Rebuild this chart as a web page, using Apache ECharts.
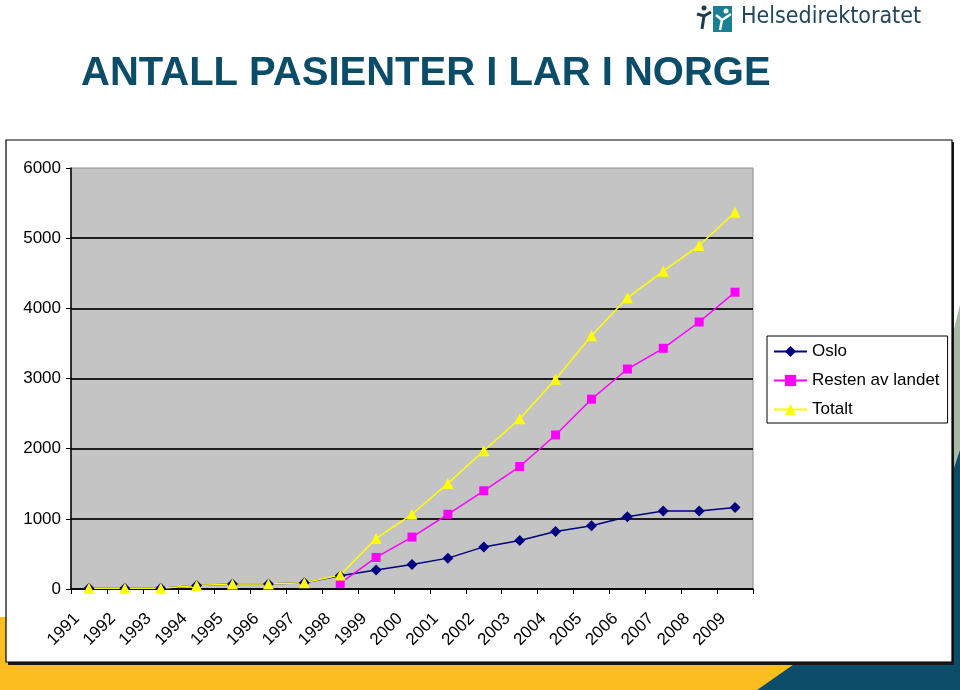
<!DOCTYPE html>
<html>
<head>
<meta charset="utf-8">
<script src="https://cdn.jsdelivr.net/npm/echarts@6/dist/echarts.min.js"></script>
<style>
  html, body { margin: 0; padding: 0; background: #fff; }
  #main { width: 960px; height: 690px; }
</style>
</head>
<body>
<div id="main"></div>
<script>
// chart data
const years = ['1991', '1992', '1993', '1994', '1995', '1996', '1997', '1998', '1999', '2000',
  '2001', '2002', '2003', '2004', '2005', '2006', '2007', '2008', '2009'];
const oslo = [10, 10, 10, 50, 70, 70, 90, 190, 270, 350, 440, 600, 690, 820, 900, 1030, 1110, 1110, 1160];
const resten = [null, null, null, null, null, null, null, 80, 450, 740, 1065, 1400, 1745, 2195, 2705, 3135, 3430, 3805, 4230];
const totalt = [10, 10, 10, 50, 70, 70, 90, 200, 720, 1065, 1505, 1970, 2425, 2990, 3610, 4150, 4530, 4895, 5370];

const font = '"Liberation Sans", Arial, sans-serif';
const teal = '#0b4d69';

const chart = echarts.init(document.getElementById('main'));

const option = {
  animation: false,
  backgroundColor: '#ffffff',
  textStyle: { fontFamily: font },
  graphic: [
    // slide background: yellow band and teal corner
    { type: 'rect', z: -20, shape: { x: 0, y: 617, width: 960, height: 73 }, style: { fill: '#fcbd1f' } },
    { type: 'polygon', z: -19, shape: { points: [[960, 305], [950, 345], [950, 690], [960, 690]] }, style: { fill: '#a9b9a7' } },
    { type: 'polygon', z: -18, shape: { points: [[960, 450], [950, 480], [950, 640], [800, 660], [757, 690], [960, 690]] }, style: { fill: teal } },
    // white chart panel
    { type: 'rect', z: -10, shape: { x: 8, y: 142, width: 946, height: 523 }, style: { fill: '#1a1a1a' } },
    { type: 'rect', z: -9, shape: { x: 6, y: 140, width: 946, height: 522 }, style: { fill: '#ffffff', stroke: '#000', lineWidth: 1.2 } },
    // title
    {
      type: 'text', left: 81, top: 54,
      style: { text: 'ANTALL PASIENTER I LAR I NORGE', fill: teal, font: 'bold 40px ' + font }
    },
    // logo
    { type: 'rect', shape: { x: 713, y: 6, width: 19, height: 26 }, style: { fill: '#187f95' } },
    { type: 'circle', shape: { cx: 726, cy: 11, r: 2.5 }, style: { fill: '#fff' } },
    { type: 'polyline', shape: { points: [[716, 15], [722, 20], [728, 16], [731, 14]] }, style: { stroke: '#fff', lineWidth: 2.5 } },
    { type: 'polyline', shape: { points: [[722, 20], [720, 30]] }, style: { stroke: '#fff', lineWidth: 2.5 } },
    { type: 'circle', shape: { cx: 704, cy: 8, r: 2.5 }, style: { fill: '#1f3b4d' } },
    { type: 'polyline', shape: { points: [[697, 14], [704, 16], [711, 12]] }, style: { stroke: '#1f3b4d', lineWidth: 3 } },
    { type: 'polyline', shape: { points: [[704, 16], [702, 29]] }, style: { stroke: '#1f3b4d', lineWidth: 3 } },
    {
      type: 'text', left: 741, top: 6,
      style: { text: 'Helsedirektoratet', fill: '#22465a', font: '23px "DejaVu Sans Condensed", ' + font }
    }
  ],
  grid: {
    left: 71, right: 207, top: 168, bottom: 101,
    show: true, backgroundColor: '#c4c4c4', borderColor: '#8c8c8c', borderWidth: 1
  },
  legend: {
    orient: 'vertical',
    left: 767, top: 336,
    padding: [7, 8, 5, 6],
    itemWidth: 33, itemHeight: 14, itemGap: 12,
    backgroundColor: '#fff', borderColor: '#000', borderWidth: 1,
    textStyle: { fontSize: 17, color: '#000', fontFamily: font },
    data: ['Oslo', 'Resten av landet', 'Totalt']
  },
  xAxis: {
    type: 'category',
    data: years,
    boundaryGap: true,
    axisLine: { lineStyle: { color: '#000', width: 1.5 } },
    axisTick: { show: true, length: 5, lineStyle: { color: '#000' } },
    axisLabel: {
      rotate: 45, fontSize: 17, color: '#000', fontFamily: font,
      margin: 15, padding: [0, 17, 0, 0], interval: 0
    },
    splitLine: { show: false }
  },
  yAxis: {
    type: 'value',
    min: 0, max: 6000, interval: 1000,
    axisLine: { show: true, lineStyle: { color: '#000', width: 1.5 } },
    axisTick: { show: true, length: 5, lineStyle: { color: '#000' } },
    axisLabel: { fontSize: 17, color: '#000', fontFamily: font, margin: 10, formatter: v => String(v) },
    splitLine: { showMaxLine: false, lineStyle: { color: '#1e1e1e', width: 2 } }
  },
  series: [
    {
      name: 'Oslo', type: 'line', data: oslo,
      symbol: 'diamond', symbolSize: 11,
      itemStyle: { color: '#000080' },
      lineStyle: { color: '#000080', width: 1.5 }
    },
    {
      name: 'Resten av landet', type: 'line', data: resten,
      symbol: 'rect', symbolSize: 9,
      itemStyle: { color: '#ff00ff' },
      lineStyle: { color: '#ff00ff', width: 1.5 }
    },
    {
      name: 'Totalt', type: 'line', data: totalt,
      symbol: 'triangle', symbolSize: 11,
      itemStyle: { color: '#ffff00' },
      lineStyle: { color: '#ffff00', width: 1.5 }
    }
  ]
};

chart.setOption(option);
</script>
</body>
</html>
